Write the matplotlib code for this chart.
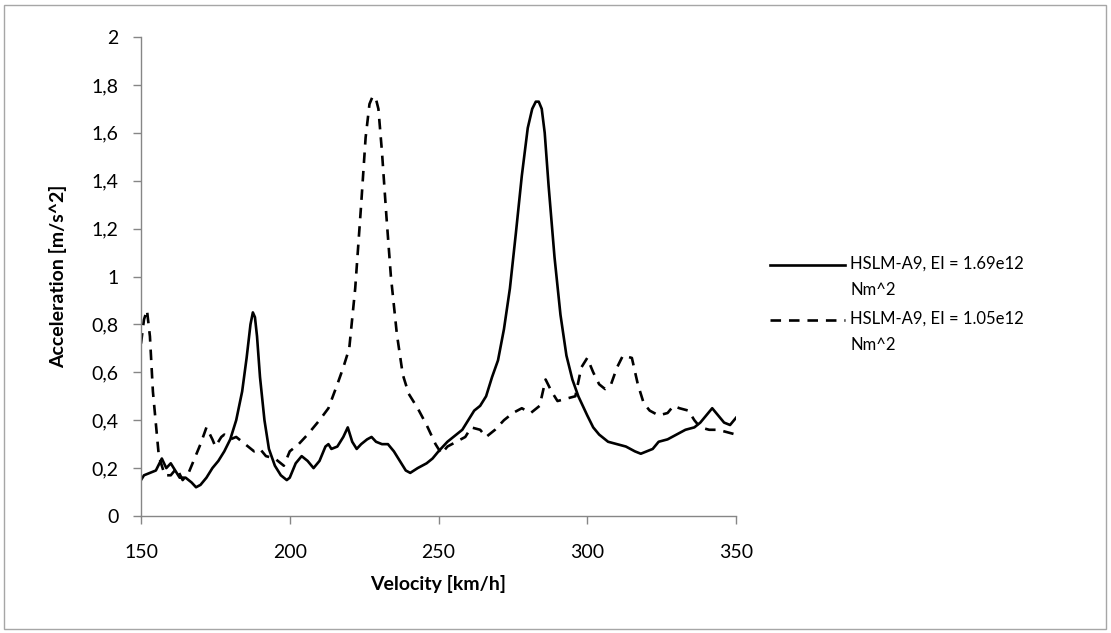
import matplotlib
matplotlib.use("Agg")
import matplotlib.pyplot as plt
from matplotlib.ticker import FuncFormatter
from matplotlib.patches import Rectangle
from matplotlib.lines import Line2D

plt.rcParams['font.family'] = ['Lato', 'DejaVu Sans']

# Solid series: HSLM-A9, EI = 1.69e12
v1 = [150, 151, 153, 155, 157, 158.5, 160, 161.5, 163, 165, 167, 168.5, 170, 172, 174, 176, 178, 180,
      182, 184, 185.5, 186.8, 187.6, 188.3, 189, 190, 191.5, 193, 195, 197, 199, 200,
      202, 204, 206, 208, 210, 212, 213, 214, 216, 218, 219.5, 221, 222.5, 224, 226, 227.5, 229, 231,
      233, 235, 237, 239, 240.5, 243, 246, 248, 250,
      253, 256, 258, 260, 262, 264, 266, 268, 270, 272, 274, 276, 278, 280, 281.5, 282.7, 283.7, 284.7,
      285.7, 287, 289, 291, 293, 295, 297, 300, 302, 304, 307, 310, 313, 316, 318, 320, 322, 324, 327,
      330, 333, 336, 338, 340, 342, 344, 346, 348, 350]
a1 = [0.15, 0.17, 0.18, 0.19, 0.24, 0.20, 0.22, 0.19, 0.16, 0.16, 0.14, 0.12, 0.13, 0.16, 0.20, 0.23, 0.27, 0.32,
      0.40, 0.52, 0.66, 0.80, 0.85, 0.83, 0.75, 0.58, 0.40, 0.28, 0.21, 0.17, 0.15, 0.16,
      0.22, 0.25, 0.23, 0.20, 0.23, 0.29, 0.30, 0.28, 0.29, 0.33, 0.37, 0.31, 0.28, 0.30, 0.32, 0.33, 0.31, 0.30,
      0.30, 0.27, 0.23, 0.19, 0.18, 0.20, 0.22, 0.24, 0.27,
      0.31, 0.34, 0.36, 0.40, 0.44, 0.46, 0.50, 0.58, 0.65, 0.78, 0.95, 1.18, 1.42, 1.62, 1.70, 1.73, 1.73, 1.70,
      1.60, 1.38, 1.08, 0.84, 0.67, 0.57, 0.50, 0.42, 0.37, 0.34, 0.31, 0.30, 0.29, 0.27, 0.26, 0.27, 0.28, 0.31, 0.32,
      0.34, 0.36, 0.37, 0.39, 0.42, 0.45, 0.42, 0.39, 0.38, 0.41]

# Dashed series: HSLM-A9, EI = 1.05e12
v2 = [150, 151, 152, 153, 154, 156, 158, 160, 162, 164, 166, 168, 170, 172, 174, 175, 177, 178, 180, 182, 185, 188,
      190, 192, 195, 198, 200, 203, 206, 210, 213, 216, 218, 220, 222, 224, 225.5, 226.8, 227.8, 228.8, 229.8, 231,
      232.5, 234, 236, 238, 240, 243, 246, 249, 251, 253, 256, 259, 261, 264, 266, 269, 272, 275, 278, 281,
      284, 286, 288, 290, 293, 296, 298, 300, 302, 304, 306, 308, 310, 312, 315, 317, 319, 321, 324,
      327, 329, 331, 334, 336, 338, 341, 344, 347, 350]
a2 = [0.72, 0.82, 0.86, 0.75, 0.52, 0.25, 0.17, 0.17, 0.20, 0.15, 0.18, 0.24, 0.30, 0.37, 0.32, 0.29, 0.33, 0.34, 0.32,
      0.33, 0.30, 0.27,
      0.28, 0.25, 0.24, 0.21, 0.27, 0.30, 0.34, 0.40, 0.45, 0.55, 0.62, 0.70, 0.95, 1.30, 1.58, 1.72, 1.75, 1.75, 1.70,
      1.52, 1.25, 1.00, 0.76, 0.59, 0.51, 0.45, 0.38, 0.30, 0.26, 0.29, 0.31, 0.33, 0.37, 0.36, 0.33, 0.36, 0.40, 0.43,
      0.45, 0.43,
      0.46, 0.57, 0.52, 0.48, 0.49, 0.50, 0.62, 0.66, 0.60, 0.55, 0.53, 0.55, 0.62, 0.67, 0.66, 0.55, 0.47, 0.44, 0.42,
      0.43, 0.46, 0.45, 0.44, 0.40, 0.37, 0.36, 0.36, 0.35, 0.34]

labels = ["HSLM-A9, EI = 1.69e12\nNm^2", "HSLM-A9, EI = 1.05e12\nNm^2"]
xticks = [150, 200, 250, 300, 350]
yticks = [0, 0.2, 0.4, 0.6, 0.8, 1.0, 1.2, 1.4, 1.6, 1.8, 2.0]

W, H = 1111, 633
fig = plt.figure(figsize=(W / 100, H / 100), dpi=100)
fig.patches.append(Rectangle((4 / W, 4 / H), 1 - 9 / W, 1 - 9 / H, transform=fig.transFigure,
                             fill=False, edgecolor='#a6a6a6', linewidth=1.0))
ax = fig.add_axes([141 / W, 1 - 516 / H, (736 - 141) / W, (516 - 37) / H])

LW = 1.9
DASH = (0, (4, 3))
ax.plot(v1, a1, color='black', linewidth=LW, solid_joinstyle='round')
ax.plot(v2, a2, color='black', linewidth=LW, linestyle=DASH)

ax.set_xlim(150, 350)
ax.set_ylim(0, 2)
ax.set_xticks(xticks)
ax.set_yticks(yticks)

def fmt(y, pos):
    s = f"{y:.1f}".rstrip('0').rstrip('.')
    return s.replace('.', ',')
ax.yaxis.set_major_formatter(FuncFormatter(fmt))

for s in ['top', 'right']:
    ax.spines[s].set_visible(False)
for s in ['left', 'bottom']:
    ax.spines[s].set_color('#868686')
    ax.spines[s].set_linewidth(1.0)
ax.tick_params(axis='both', colors='#868686', labelcolor='black', labelsize=14, length=6, width=1.0)
ax.tick_params(axis='x', pad=14)
ax.tick_params(axis='y', pad=10)

ax.set_xlabel("Velocity [km/h]", fontsize=14, fontweight='bold', labelpad=10)
ax.set_ylabel("Acceleration [m/s^2]", fontsize=14, fontweight='bold', labelpad=18)

# Manual legend (handle aligned with the first text line, as in the reference)
styles = ['-', DASH]
for i, (lab, ls) in enumerate(zip(labels, styles)):
    y0 = 1 - (265 + 55 * i) / H
    fig.lines.append(Line2D([770 / W, 845 / W], [y0, y0], transform=fig.transFigure,
                            color='black', linewidth=LW, linestyle=ls))
    fig.text(850 / W, y0, lab, fontsize=12, va='top', ha='left', linespacing=1.75,
             transform=fig.transFigure).set_y(y0 + 9 / H)

fig.savefig("out.png", dpi=100)
